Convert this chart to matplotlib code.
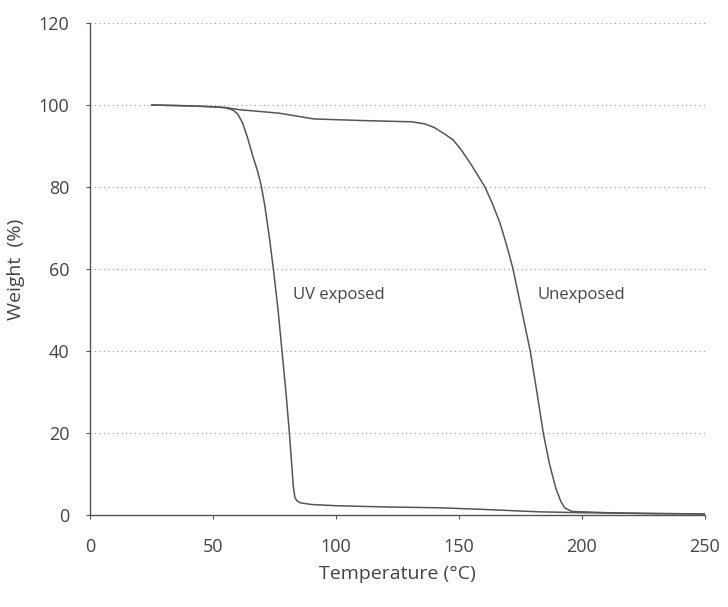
import matplotlib
matplotlib.use('Agg')
import matplotlib.pyplot as plt

# TGA curves
uv_temp = [25, 40, 50, 55, 58, 60, 62, 64, 66, 68, 69.5, 71, 72.8, 74.5, 76.4, 78, 79.6, 81, 82, 82.6, 83.3,
           84.3, 85.5, 90, 100, 120, 142, 160, 183, 200, 225, 250]
uv_weight = [100, 99.8, 99.6, 99.3, 98.8, 97.8, 95.6, 92, 87.8, 84, 80.5, 75.5, 68, 60, 50, 40, 30, 20, 12, 7, 4.1,
             3.3, 2.9, 2.5, 2.2, 1.9, 1.7, 1.3, 0.7, 0.5, 0.3, 0.2]

unexp_temp = [25, 40, 55, 60, 77, 91, 111, 131, 136, 140, 144, 147.6, 151, 154.5, 157.5, 160.6, 163.7,
              166.7, 169.4, 172, 175.5, 179, 181.7, 184.3, 186.8, 189.4, 191.5, 193, 196, 210, 230, 250]
unexp_weight = [100, 99.8, 99.4, 98.9, 98, 96.6, 96.2, 95.9, 95.4, 94.5, 93, 91.5, 89, 85.9, 83, 80, 75.8,
                71.2, 65.8, 60, 50, 40, 30, 20, 12.5, 6.5, 3.2, 1.7, 0.8, 0.5, 0.3, 0.2]

x_ticks = [0, 50, 100, 150, 200, 250]
y_ticks = [0, 20, 40, 60, 80, 100, 120]

plt.rcParams['font.family'] = ['Open Sans', 'DejaVu Sans']
text_color = '#444444'

fig = plt.figure(figsize=(7.28, 6.07), dpi=100)
ax = fig.add_axes([0.124, 0.152, 0.844, 0.810])

ax.plot(uv_temp, uv_weight, color='#555555', lw=1.1)
ax.plot(unexp_temp, unexp_weight, color='#555555', lw=1.1)

ax.set_xlim(0, 250)
ax.set_ylim(0, 120)
ax.set_xticks(x_ticks)
ax.set_yticks(y_ticks)
ax.yaxis.grid(True, linestyle=(0, (1, 3)), color='#999999', lw=0.8)
ax.set_axisbelow(True)

for side in ['top', 'right']:
    ax.spines[side].set_visible(False)
for side in ['left', 'bottom']:
    ax.spines[side].set_linestyle((0, (1, 1)))
    ax.spines[side].set_color('#555555')
    ax.spines[side].set_linewidth(1.0)

ax.tick_params(axis='both', colors='#555555', labelcolor=text_color, labelsize=13, length=3, width=0.8)
ax.tick_params(axis='x', pad=14)
ax.tick_params(axis='y', pad=12)

ax.set_xlabel('Temperature (\u00b0C)', fontsize=14, color=text_color, labelpad=6)
ax.set_ylabel('Weight  (%)', fontsize=14, color=text_color, labelpad=10)

ax.text(82.5, 53.7, 'UV exposed', fontsize=12, color=text_color, va='center', ha='left')
ax.text(182, 53.7, 'Unexposed', fontsize=12, color=text_color, va='center', ha='left')

fig.savefig('out.png', dpi=100)
